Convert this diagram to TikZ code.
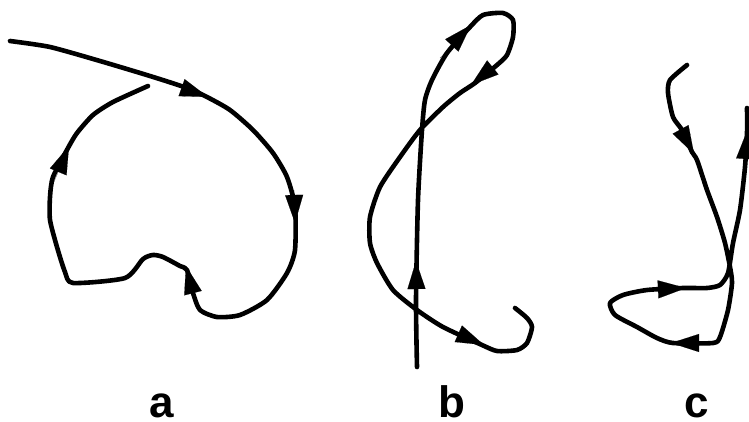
\documentclass[tikz,border=0pt]{standalone}
\usepackage{fontspec}
\setmainfont{Liberation Sans}
\usetikzlibrary{arrows.meta}

\tikzset{
    orbit/.style={line width=4.6pt, line join=round, line cap=round},
    arr/.style={line width=0.1pt, -{Triangle[length=28pt, width=18pt]}},
    panel/.style={font=\bfseries\fontsize{44}{44}\selectfont, anchor=base west, inner sep=0pt}
}

\begin{document}
\begin{tikzpicture}[x=1pt, y=-1pt]
    \useasboundingbox (0,0) rectangle (749,421);

    % Curve a
    \draw[orbit] plot[smooth, tension=0.4] coordinates {
        (10,41) (50,47) (100,61) (150,76) (187,88) (207,97) (230,110) (253,130)
        (273,153) (287,177) (295,207) (295,250) (287,273) (267,300) (240,315)
        (217,317) (200,310) (193,293) (187,270) (180,266) (163,257) (153,255)
        (143,259) (125,278) (73,283) (65,272) (57,247) (50,220) (50,197)
        (53,177) (68,148) (77,133) (93,115) (113,102) (148,86)};
    \draw[arr] (160,80) -- (208,97);
    \draw[arr] (294,190) -- (295,223);
    \draw[arr] (196,305) -- (186,266);
    \draw[arr] (54,182) -- (69,146);

    % Curve b
    \draw[orbit] plot[smooth, tension=0.4] coordinates {
        (417,367) (416,300) (418,200) (422,130) (425,100) (432,80) (447,53)
        (470,27) (483,15) (503,13) (513,20) (513,37) (507,55) (497,65)
        (475,83) (460,93) (443,107) (420,130) (400,157) (380,187) (370,217)
        (370,243) (377,263) (393,290) (417,310) (443,327) (482,345) (497,351)
        (517,350) (527,343) (532,327) (527,318) (515,308)};
    \draw[arr] (417,320) -- (416,261);
    \draw[arr] (440,58) -- (471,25);
    \draw[arr] (497,64) -- (471,85);
    \draw[arr] (443,327) -- (484,345);

    % Curve c
    \draw[orbit] plot[smooth, tension=0.4] coordinates {
        (687,65) (670,80) (668,93) (673,117) (682,130) (692,152) (697,160)
        (707,190) (717,217) (725,243) (730,267) (732,283) (728,310) (720,337)
        (713,343) (673,343) (657,338) (637,327) (615,315) (610,303) (623,295)
        (647,290) (683,288) (707,288) (720,285) (728,273) (733,243) (740,210)
        (745,167) (747,133) (747,108)};
    \draw[arr] (676,121) -- (694,154);
    \draw[arr] (712,343) -- (671,343);
    \draw[arr] (645,290) -- (686,288);
    \draw[arr] (744,176) -- (747,131);

    % Labels
    \foreach \x/\name in {149/a, 438/b, 684/c} {
        \node[panel] (lbl\name) at (\x,417) {\name};
    }
\end{tikzpicture}
\end{document}
